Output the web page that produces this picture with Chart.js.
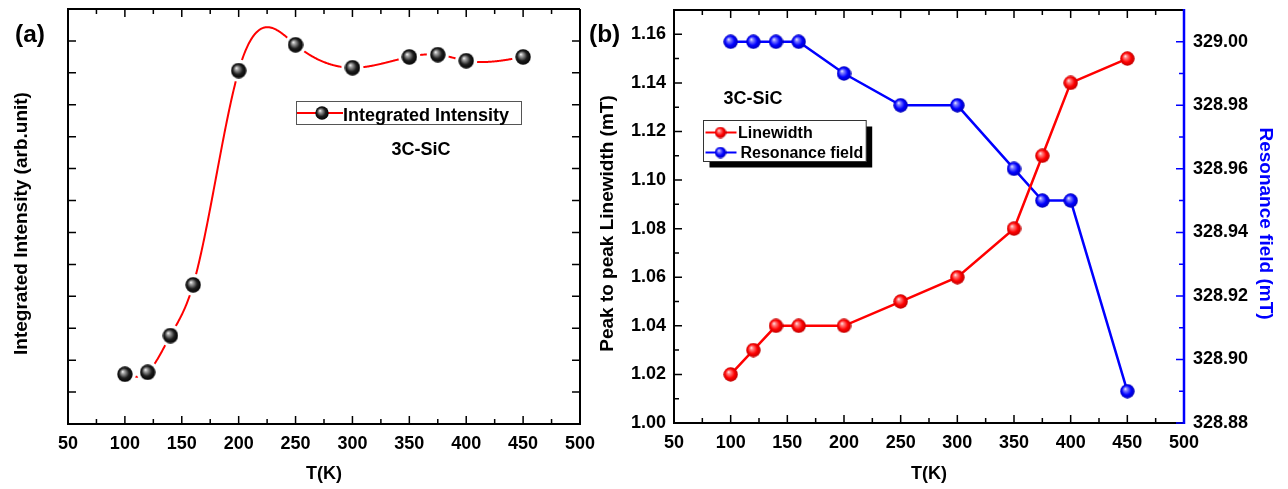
<!DOCTYPE html>
<html><head><meta charset="utf-8">
<script src="https://cdn.jsdelivr.net/npm/chart.js@4.4.0/dist/chart.umd.min.js"></script>
<style>
html,body{margin:0;padding:0;background:#fff;width:1288px;height:489px;overflow:hidden}
.box{position:absolute;top:0;height:489px}
#wa{left:0;width:610px}
#wb{left:585px;width:703px}
</style></head><body>
<div class="box" id="wa"><canvas id="ca"></canvas></div>
<div class="box" id="wb"><canvas id="cb"></canvas></div>
<script>
// ---- data ----
const temperaturesA = [100, 120, 140, 160, 200, 250, 300, 350, 375, 400, 450];
const intensity = [1.56, 1.62, 2.77, 4.36, 11.07, 11.88, 11.16, 11.50, 11.57, 11.38, 11.50];
const temperaturesB = [100, 120, 140, 160, 200, 250, 300, 350, 375, 400, 450];
const linewidth = [1.02, 1.03, 1.04, 1.04, 1.04, 1.05, 1.06, 1.08, 1.11, 1.14, 1.15];
const resonanceField = [329.00, 329.00, 329.00, 329.00, 328.99, 328.98, 328.98, 328.96, 328.95, 328.95, 328.89];
const xTicks = [50, 100, 150, 200, 250, 300, 350, 400, 450, 500];
const intensityTicks = [1, 2, 3, 4, 5, 6, 7, 8, 9, 10, 11, 12];
const linewidthTicks = [1.00, 1.02, 1.04, 1.06, 1.08, 1.10, 1.12, 1.14, 1.16];
const resonanceTicks = [328.88, 328.90, 328.92, 328.94, 328.96, 328.98, 329.00];

const FAM = '"Liberation Sans", Arial, Helvetica, sans-serif';
const tickFont = {family: FAM, size: 18, weight: 'bold'};
const titleFont = {family: FAM, size: 19, weight: 'bold'};
const xTitleFont = {family: FAM, size: 18, weight: 'bold'};

function ball(d, c0, c1, c2) {
  const cv = document.createElement('canvas'); cv.width = d; cv.height = d;
  const g = cv.getContext('2d'); const r = d / 2;
  const grad = g.createRadialGradient(r * 0.7, r * 0.66, 0, r, r, r);
  grad.addColorStop(0, '#ffffff'); grad.addColorStop(0.2, c0); grad.addColorStop(0.62, c1); grad.addColorStop(1, c2);
  g.fillStyle = grad; g.beginPath(); g.arc(r, r, r - 0.3, 0, Math.PI * 2); g.fill();
  return cv;
}
const blackBall = ball(16, '#a8a8a8', '#1e1e1e', '#000000');
const blackBallL = ball(14, '#a8a8a8', '#1e1e1e', '#000000');
const redBall = ball(15, '#ff8a8a', '#ff0000', '#b80000');
const blueBall = ball(15, '#8a8aff', '#0000ff', '#0000b0');
const redBallL = ball(12, '#ff8a8a', '#ff0000', '#b80000');
const blueBallL = ball(12, '#8a8aff', '#0000ff', '#0000b0');

function naturalSpline(xs, ys) {
  const n = xs.length, h = [], al = [], l = [1], mu = [0], z = [0], c = new Array(n).fill(0), b = [], d = [];
  for (let i = 0; i < n - 1; i++) h[i] = xs[i + 1] - xs[i];
  for (let i = 1; i < n - 1; i++) al[i] = 3 / h[i] * (ys[i + 1] - ys[i]) - 3 / h[i - 1] * (ys[i] - ys[i - 1]);
  for (let i = 1; i < n - 1; i++) { l[i] = 2 * (xs[i + 1] - xs[i - 1]) - h[i - 1] * mu[i - 1]; mu[i] = h[i] / l[i]; z[i] = (al[i] - h[i - 1] * z[i - 1]) / l[i]; }
  for (let j = n - 2; j >= 0; j--) { c[j] = z[j] - mu[j] * c[j + 1]; b[j] = (ys[j + 1] - ys[j]) / h[j] - h[j] * (c[j + 1] + 2 * c[j]) / 3; d[j] = (c[j + 1] - c[j]) / (3 * h[j]); }
  return x => { let i = n - 2; for (let k = 0; k < n - 1; k++) { if (x <= xs[k + 1]) { i = k; break; } } const dx = x - xs[i]; return ys[i] + b[i] * dx + c[i] * dx * dx + d[i] * dx * dx * dx; };
}

function drawTicks(ctx, chart, xs, yScale, yTicks, rightScale, rightTicks, rightColor) {
  const a = chart.chartArea, x = chart.scales.x;
  ctx.save(); ctx.lineWidth = 1.5; ctx.strokeStyle = '#000';
  ctx.beginPath();
  for (let i = 0; i < xs.length; i++) {
    const p = x.getPixelForValue(xs[i]);
    ctx.moveTo(p, a.bottom); ctx.lineTo(p, a.bottom - 8); ctx.moveTo(p, a.top); ctx.lineTo(p, a.top + 8);
    if (i < xs.length - 1) {
      const m = x.getPixelForValue((xs[i] + xs[i + 1]) / 2);
      ctx.moveTo(m, a.bottom); ctx.lineTo(m, a.bottom - 5); ctx.moveTo(m, a.top); ctx.lineTo(m, a.top + 5);
    }
  }
  const sideTicks = (ys, s, x0, dir, minor) => {
    for (let i = 0; i < ys.length; i++) {
      const p = s.getPixelForValue(ys[i]);
      ctx.moveTo(x0, p); ctx.lineTo(x0 + dir * 8, p);
      if (minor && i < ys.length - 1) { const m = s.getPixelForValue((ys[i] + ys[i + 1]) / 2); ctx.moveTo(x0, m); ctx.lineTo(x0 + dir * 5, m); }
    }
  };
  sideTicks(yTicks, yScale, a.left, 1, !!rightScale);
  if (!rightScale) sideTicks(yTicks, yScale, a.right, -1, false);
  ctx.stroke();
  ctx.lineWidth = 2;
  ctx.beginPath();
  ctx.moveTo(a.right, a.top); ctx.lineTo(a.left, a.top); ctx.lineTo(a.left, a.bottom); ctx.lineTo(a.right, a.bottom);
  if (!rightScale) ctx.lineTo(a.right, a.top);
  ctx.stroke();
  if (rightScale) {
    ctx.strokeStyle = rightColor; ctx.lineWidth = 1.5; ctx.beginPath();
    sideTicks(rightTicks, rightScale, a.right, -1, true);
    ctx.stroke();
    ctx.lineWidth = 2.5; ctx.beginPath(); ctx.moveTo(a.right, a.top - 1); ctx.lineTo(a.right, a.bottom + 1); ctx.stroke();
  }
  ctx.restore();
}

function text(ctx, s, x, y, size, color) {
  ctx.save(); ctx.font = 'bold ' + size + 'px ' + FAM; ctx.fillStyle = color || '#000';
  ctx.textAlign = 'left'; ctx.textBaseline = 'alphabetic'; ctx.fillText(s, x, y); ctx.restore();
}
function textWidth(ctx, s, size) {
  ctx.save(); ctx.font = 'bold ' + size + 'px ' + FAM; const w = ctx.measureText(s).width; ctx.restore(); return w;
}
const noPad = s => { s.paddingTop = 0; s.paddingBottom = 0; };

// shifts the vertical axis titles a few pixels down, as in the reference
const titleShift = {
  id: 'titleShift',
  afterLayout(chart) {
    Object.values(chart.scales).forEach(s => {
      if (s.axis !== 'y' || s._shifted) return;
      const orig = s.drawTitle.bind(s);
      s.drawTitle = function () { this.ctx.save(); this.ctx.translate(0, 7); orig(); this.ctx.restore(); };
      s._shifted = true;
    });
  }
};

// ---- chart (a) ----
const pluginA = {
  id: 'decorA',
  beforeDatasetsDraw(chart) {
    const ctx = chart.ctx, x = chart.scales.x, y = chart.scales.y;
    drawTicks(ctx, chart, xTicks, y, intensityTicks, null);
    const f = naturalSpline(temperaturesA, intensity);
    const x0 = temperaturesA[0], x1 = temperaturesA[temperaturesA.length - 1];
    ctx.save(); ctx.strokeStyle = '#ff0000'; ctx.lineWidth = 2; ctx.beginPath();
    for (let i = 0; i <= 700; i++) { const t = x0 + (x1 - x0) * i / 700; const px = x.getPixelForValue(t), py = y.getPixelForValue(f(t)); if (i) ctx.lineTo(px, py); else ctx.moveTo(px, py); }
    ctx.stroke();
    ctx.fillStyle = '#fff';
    temperaturesA.forEach((t, i) => { ctx.beginPath(); ctx.arc(x.getPixelForValue(t), y.getPixelForValue(intensity[i]), 11, 0, Math.PI * 2); ctx.fill(); });
    ctx.restore();
  },
  afterDraw(chart) {
    const ctx = chart.ctx;
    text(ctx, '(a)', 15, 42, 24.5);
    text(ctx, '3C-SiC', 391.5, 155, 18);
    const w = textWidth(ctx, 'Integrated Intensity', 18);
    const bx = 296, by = 101, bw = Math.max(225, 47 + w + 11), bh = 23;
    ctx.save(); ctx.strokeStyle = '#555'; ctx.lineWidth = 1; ctx.strokeRect(bx + 0.5, by + 0.5, bw, bh);
    ctx.strokeStyle = '#ff0000'; ctx.lineWidth = 2; ctx.beginPath(); ctx.moveTo(bx + 1, by + 12); ctx.lineTo(bx + 47, by + 12); ctx.stroke();
    ctx.drawImage(blackBallL, bx + 26 - 7, by + 12 - 7);
    ctx.restore();
    text(ctx, 'Integrated Intensity', bx + 47, by + 19.5, 18);
  }
};

new Chart(document.getElementById('ca'), {
  type: 'scatter',
  data: { datasets: [{ label: 'Integrated Intensity', data: temperaturesA.map((t, i) => ({x: t, y: intensity[i]})), pointStyle: blackBall, pointRadius: 8, showLine: false, borderColor: '#ff0000', backgroundColor: '#000' }] },
  options: {
    animation: false, responsive: true, maintainAspectRatio: false,
    layout: { padding: { top: 7, right: 30, bottom: 0, left: 0 } },
    plugins: { legend: { display: false }, tooltip: { enabled: false } },
    scales: {
      x: { type: 'linear', min: 50, max: 500, grid: { display: false, drawTicks: false }, border: { display: false },
        afterBuildTicks: s => { s.ticks = xTicks.map(v => ({value: v})); },
        afterFit: s => { s.height = 65; s.paddingLeft = 0; s.paddingRight = 0; },
        ticks: { font: tickFont, color: '#000', padding: 9, maxRotation: 0, autoSkip: false },
        title: { display: true, text: 'T(K)', font: xTitleFont, color: '#000', padding: { top: 0, bottom: 4 } } },
      y: { type: 'linear', min: 0, max: 13, grid: { display: false, drawTicks: false }, border: { display: false },
        afterBuildTicks: s => { s.ticks = intensityTicks.map(v => ({value: v})); },
        afterFit: s => { s.width = 68; noPad(s); },
        ticks: { display: false },
        title: { display: true, text: 'Integrated Intensity (arb.unit)', font: titleFont, color: '#000', padding: { top: 10, bottom: 0 } } }
    }
  },
  plugins: [pluginA, titleShift]
});

// ---- chart (b) ----
const pluginB = {
  id: 'decorB',
  beforeDatasetsDraw(chart) {
    drawTicks(chart.ctx, chart, xTicks, chart.scales.y, linewidthTicks, chart.scales.y1, resonanceTicks, '#0000ff');
  },
  afterDraw(chart) {
    const ctx = chart.ctx;
    text(ctx, '(b)', 4, 42, 24.5);
    text(ctx, '3C-SiC', 138.5, 103.5, 18);
    const w = textWidth(ctx, 'Resonance field', 16);
    const bx = 118.5, by = 120.5, bw = Math.max(161, 37 + w + 3), bh = 41;
    ctx.save();
    ctx.fillStyle = '#000'; ctx.fillRect(bx + 6, by + 6, bw, bh);
    ctx.fillStyle = '#fff'; ctx.fillRect(bx, by, bw, bh);
    ctx.strokeStyle = '#333'; ctx.lineWidth = 1; ctx.strokeRect(bx, by, bw, bh);
    ctx.lineWidth = 2;
    ctx.strokeStyle = '#ff0000'; ctx.beginPath(); ctx.moveTo(bx + 2, by + 12); ctx.lineTo(bx + 33, by + 12); ctx.stroke();
    ctx.drawImage(redBallL, bx + 17 - 6, by + 12 - 6);
    ctx.strokeStyle = '#0000ff'; ctx.beginPath(); ctx.moveTo(bx + 2, by + 32); ctx.lineTo(bx + 33, by + 32); ctx.stroke();
    ctx.drawImage(blueBallL, bx + 17 - 6, by + 32 - 6);
    ctx.restore();
    text(ctx, 'Linewidth', bx + 34.5, by + 17.5, 16);
    text(ctx, 'Resonance field', bx + 37, by + 37.5, 16);
  }
};

new Chart(document.getElementById('cb'), {
  type: 'scatter',
  data: { datasets: [
    { label: 'Linewidth', yAxisID: 'y', data: temperaturesB.map((t, i) => ({x: t, y: linewidth[i]})), showLine: true, tension: 0, borderColor: '#ff0000', borderWidth: 2.5, pointStyle: redBall, pointRadius: 7.5 },
    { label: 'Resonance field', yAxisID: 'y1', data: temperaturesB.map((t, i) => ({x: t, y: resonanceField[i]})), showLine: true, tension: 0, borderColor: '#0000ff', borderWidth: 2.5, pointStyle: blueBall, pointRadius: 7.5 }
  ] },
  options: {
    animation: false, responsive: true, maintainAspectRatio: false,
    layout: { padding: { top: 7, right: 10, bottom: 0, left: 0 } },
    plugins: { legend: { display: false }, tooltip: { enabled: false } },
    scales: {
      x: { type: 'linear', min: 50, max: 500, grid: { display: false, drawTicks: false }, border: { display: false },
        afterBuildTicks: s => { s.ticks = xTicks.map(v => ({value: v})); },
        afterFit: s => { s.height = 66; s.paddingLeft = 0; s.paddingRight = 0; },
        ticks: { font: tickFont, color: '#000', padding: 9, maxRotation: 0, autoSkip: false },
        title: { display: true, text: 'T(K)', font: xTitleFont, color: '#000', padding: { top: 0, bottom: 4 } } },
      y: { type: 'linear', position: 'left', min: 1.00, max: 1.17, grid: { display: false, drawTicks: false }, border: { display: false },
        afterBuildTicks: s => { s.ticks = linewidthTicks.map(v => ({value: v})); },
        afterFit: s => { s.width = 89; noPad(s); },
        ticks: { font: tickFont, color: '#000', padding: 8, callback: v => Number(v).toFixed(2) },
        title: { display: true, text: 'Peak to peak Linewidth (mT)', font: titleFont, color: '#000', padding: { top: 11, bottom: 0 } } },
      y1: { type: 'linear', position: 'right', min: 328.88, max: 329.01, grid: { display: false, drawTicks: false }, border: { display: false },
        afterBuildTicks: s => { s.ticks = resonanceTicks.map(v => ({value: v})); },
        afterFit: s => { s.width = 94; noPad(s); },
        ticks: { font: tickFont, color: '#000', padding: 9, callback: v => Number(v).toFixed(2) },
        title: { display: true, text: 'Resonance field (mT)', font: titleFont, color: '#0000ff', padding: { top: 1, bottom: 0 } } }
    }
  },
  plugins: [pluginB, titleShift]
});
</script>
</body></html>
